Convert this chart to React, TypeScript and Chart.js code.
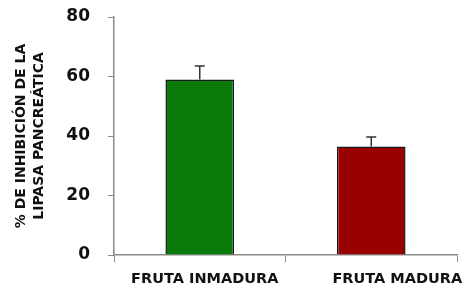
import { useEffect, useRef } from 'react';
import { Chart, registerables } from 'chart.js';

Chart.register(...registerables);

const categories = ['FRUTA INMADURA', 'FRUTA MADURA'];
const values = [59, 36.5];
const errors = [4.5, 3.2];
const barColors = ['#0a7a0a', '#990000'];
const yTitle = ['% DE INHIBICIÓN DE LA', 'LIPASA PANCREÁTICA'];
const yMin = 0;
const yMax = 80;
const yStep = 20;

const FONT = "'DejaVu Sans', sans-serif";
const X_LABEL_SHIFT = [5, 26];

const errorBarPlugin = {
  id: 'errorBars',
  afterDatasetsDraw(chart: any) {
    const { ctx } = chart;
    const meta = chart.getDatasetMeta(0);
    const y = chart.scales.y;
    ctx.save();
    ctx.strokeStyle = '#333333';
    ctx.lineWidth = 1.5;
    meta.data.forEach((bar: any, i: number) => {
      const x = bar.x;
      const top = y.getPixelForValue(values[i] + errors[i]);
      ctx.beginPath();
      ctx.moveTo(x, bar.y);
      ctx.lineTo(x, top);
      ctx.moveTo(x - 5, top);
      ctx.lineTo(x + 5, top);
      ctx.stroke();
    });
    ctx.restore();
  },
};

const labelShiftPlugin = {
  id: 'labelShift',
  beforeDraw(chart: any) {
    const s = chart.scales.x;
    if (!s || typeof s.getLabelItems !== 'function') return;
    const items = s.getLabelItems();
    items.forEach((it: any, i: number) => {
      if (!it._shifted && it.options && it.options.translation) {
        it.options.translation[0] += X_LABEL_SHIFT[i] || 0;
        it._shifted = true;
      }
    });
  },
};

export default function App() {
  const ref = useRef<HTMLCanvasElement>(null);
  useEffect(() => {
    document.body.style.margin = '0';
    const chart = new Chart(ref.current!, {
      type: 'bar',
      data: {
        labels: categories,
        datasets: [
          {
            data: values,
            backgroundColor: barColors,
            borderColor: '#1a1a1a',
            borderWidth: 1.5,
            barPercentage: 0.8,
            categoryPercentage: 0.5,
          },
        ],
      },
      options: {
        responsive: false,
        animation: false,
        events: [],
        layout: { padding: { top: 17, right: 8, left: 0, bottom: 0 } },
        plugins: { legend: { display: false }, tooltip: { enabled: false } },
        scales: {
          x: {
            grid: {
              display: true,
              drawOnChartArea: false,
              drawTicks: true,
              tickLength: 7,
              color: '#8c8c8c',
              offset: true,
            },
            border: { color: '#8c8c8c', width: 1.5 },
            ticks: {
              color: '#111111',
              font: { family: FONT, weight: 'bold', size: 14.5 },
              padding: 9,
            },
            afterFit: (s: any) => {
              s.height = 34;
              s.paddingLeft = 0;
              s.paddingRight = 0;
            },
          },
          y: {
            min: yMin,
            max: yMax,
            grid: {
              display: true,
              drawOnChartArea: false,
              drawTicks: true,
              tickLength: 6,
              color: '#8c8c8c',
            },
            border: { color: '#8c8c8c', width: 1.5 },
            ticks: {
              stepSize: yStep,
              color: '#111111',
              font: { family: FONT, weight: 'bold', size: 17 },
              padding: 18,
            },
            title: {
              display: true,
              text: yTitle,
              color: '#111111',
              font: { family: FONT, weight: 'bold', size: 14, lineHeight: 1.3 },
              padding: { top: 12, bottom: 0 },
            },
            afterFit: (s: any) => {
              s.width = 114;
              s.paddingTop = 0;
              s.paddingBottom = 0;
            },
          },
        },
      },
      plugins: [errorBarPlugin, labelShiftPlugin],
    });
    return () => chart.destroy();
  }, []);
  return <canvas ref={ref} width={465} height={289} style={{ display: 'block' }} />;
}
